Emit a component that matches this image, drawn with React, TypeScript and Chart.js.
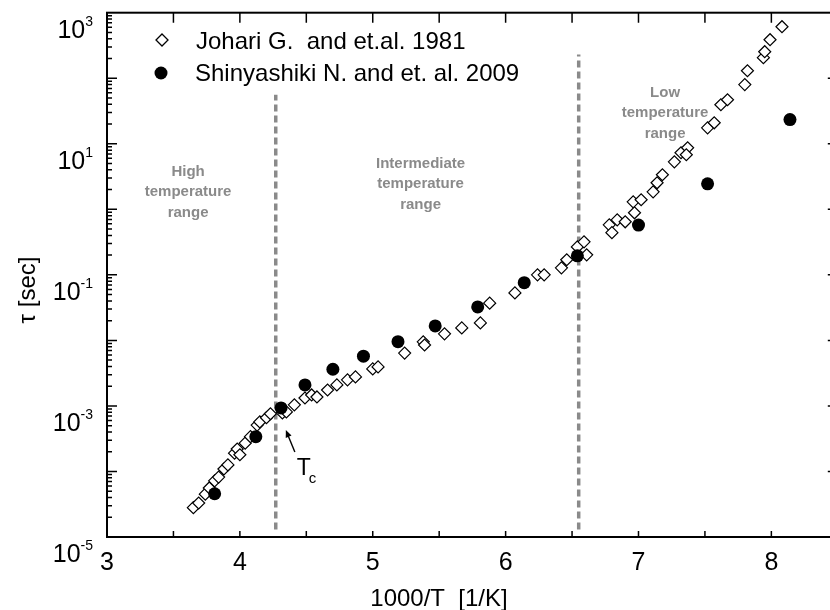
import React, { useEffect, useRef } from 'react';
import { Chart, registerables } from 'chart.js';

Chart.register(...registerables);

// Johari G. and et.al. 1981 (open diamonds)
const johariX = [3.65, 3.69, 3.74, 3.77, 3.81, 3.84, 3.88, 3.91, 3.96, 3.98, 4.00, 4.04, 4.08, 4.13, 4.15, 4.20, 4.23, 4.32, 4.35, 4.41, 4.49, 4.54, 4.58, 4.66, 4.73, 4.81, 4.87, 5.00, 5.04, 5.24, 5.38, 5.39, 5.54, 5.67, 5.81, 5.88, 6.07, 6.24, 6.29, 6.42, 6.46, 6.54, 6.59, 6.61, 6.78, 6.80, 6.84, 6.90, 6.96, 6.97, 7.02, 7.11, 7.14, 7.18, 7.27, 7.32, 7.37, 7.36, 7.52, 7.57, 7.62, 7.67, 7.80, 7.82, 7.94, 7.95, 7.99, 8.08];
const johariY = [2.8e-5, 3.3e-5, 4.5e-5, 5.6e-5, 7.2e-5, 8.2e-5, 1.09e-4, 1.26e-4, 1.9e-4, 2.2e-4, 1.8e-4, 2.7e-4, 3.4e-4, 5.1e-4, 5.7e-4, 6.6e-4, 7.6e-4, 7.8e-4, 8.1e-4, 1.04e-3, 1.32e-3, 1.47e-3, 1.37e-3, 1.75e-3, 2.09e-3, 2.5e-3, 2.77e-3, 3.67e-3, 3.94e-3, 6.4e-3, 9.5e-3, 8.5e-3, 1.26e-2, 1.55e-2, 1.85e-2, 3.7e-2, 5.3e-2, 0.1, 0.1, 0.128, 0.17, 0.267, 0.319, 0.202, 0.58, 0.44, 0.69, 0.645, 1.3, 0.885, 1.4, 1.85, 2.54, 3.37, 5.3, 7.3, 8.7, 6.8, 17.5, 20.9, 39.4, 47, 80, 130, 206, 254, 387, 611];

// Shinyashiki N. and et. al. 2009 (filled circles)
const shinX = [3.81, 4.12, 4.31, 4.49, 4.70, 4.93, 5.19, 5.47, 5.79, 6.14, 6.54, 7.00, 7.52, 8.14];
const shinY = [4.57e-5, 3.39e-4, 9.33e-4, 2.09e-3, 3.63e-3, 5.75e-3, 9.55e-3, 1.66e-2, 3.24e-2, 7.59e-2, 0.195, 0.575, 2.45, 23.4];

const johariLabel = 'Johari G.  and et.al. 1981';
const shinLabel = 'Shinyashiki N. and et. al. 2009';

// range dividers (1000/T values) and their vertical extent
const dividerX = [4.27, 6.55];
const dividerTopY = [56, 230];
const dividerBottomY = 1.3e-5;

const xTickLabels = [3, 4, 5, 6, 7, 8];
const xMinorSteps = [3.5, 4, 4.5, 5, 5.5, 6, 6.5, 7, 7.5, 8];
const yLabelExps = [-5, -3, -1, 1, 3];
const yDecadeExps = [-5, -4, -3, -2, -1, 0, 1, 2, 3];

const regionLines = [
  ['High', 'temperature', 'range'],
  ['Intermediate', 'temperature', 'range'],
  ['Low', 'temperature', 'range'],
];

const xTitle = '1000/T  [1/K]';
const yTitle = 'τ [sec]';

const FONT = '"Liberation Sans", Arial, Helvetica, sans-serif';

export default function App() {
  const ref = useRef<HTMLCanvasElement>(null);

  useEffect(() => {
    const canvas = ref.current;
    if (!canvas) return;

    const decor = {
      id: 'decor',
      afterDatasetsDraw(chart: any) {
        const ctx = chart.ctx as CanvasRenderingContext2D;
        const { left, right, top, bottom } = chart.chartArea;
        const xs = chart.scales.x;
        const ys = chart.scales.y;
        ctx.save();

        // frame
        ctx.strokeStyle = '#000';
        ctx.lineWidth = 2;
        ctx.strokeRect(left, top, right - left, bottom - top);

        // ticks (inward)
        ctx.lineWidth = 1.5;
        ctx.beginPath();
        xMinorSteps.forEach((v) => {
          const px = xs.getPixelForValue(v);
          ctx.moveTo(px, bottom);
          ctx.lineTo(px, bottom - 6);
          ctx.moveTo(px, top);
          ctx.lineTo(px, top + 10);
        });
        yDecadeExps.forEach((e) => {
          const base = Math.pow(10, e);
          const py = ys.getPixelForValue(base);
          if (e > -5 && e < 3) {
            ctx.moveTo(left, py);
            ctx.lineTo(left + 10, py);
            ctx.moveTo(right, py);
            ctx.lineTo(right - 10, py);
          }
          if (e < 3) {
            for (let m = 2; m <= 9; m++) {
              const p = ys.getPixelForValue(m * base);
              ctx.moveTo(left, p);
              ctx.lineTo(left + 5, p);
            }
          }
        });
        ctx.stroke();

        // x tick labels
        ctx.fillStyle = '#000';
        ctx.font = `25px ${FONT}`;
        ctx.textAlign = 'center';
        ctx.textBaseline = 'alphabetic';
        xTickLabels.forEach((v) => {
          ctx.fillText(String(v), xs.getPixelForValue(v), 570);
        });

        // y tick labels 10^n
        yLabelExps.forEach((e) => {
          const py = ys.getPixelForValue(Math.pow(10, e));
          const sup = String(e);
          ctx.font = `14px ${FONT}`;
          const supW = ctx.measureText(sup).width;
          ctx.textAlign = 'right';
          ctx.fillText(sup, 93, py + 13);
          ctx.font = `25px ${FONT}`;
          ctx.fillText('10', 93 - supW, py + 25);
        });

        // axis titles
        ctx.font = `24px ${FONT}`;
        ctx.textAlign = 'center';
        ctx.fillText(xTitle, 439, 606);
        ctx.save();
        ctx.translate(35, 290);
        ctx.rotate(-Math.PI / 2);
        ctx.fillText(yTitle, 0, 0);
        ctx.restore();

        // region labels
        const regionAnchors = [
          { x: 3.61, y: 3.24 },
          { x: 5.36, y: 4.3 },
          { x: 7.2, y: 52 },
        ];
        ctx.fillStyle = '#8a8a8a';
        ctx.font = `bold 15px ${FONT}`;
        ctx.textAlign = 'center';
        regionLines.forEach((lines, i) => {
          const ax = xs.getPixelForValue(regionAnchors[i].x);
          const ay = ys.getPixelForValue(regionAnchors[i].y);
          lines.forEach((t, j) => ctx.fillText(t, ax, ay + j * 20.5));
        });

        // Tc arrow + label
        const tipX = xs.getPixelForValue(4.346);
        const tipY = ys.getPixelForValue(4.3e-4);
        const tailX = tipX + 9;
        const tailY = tipY + 22;
        ctx.strokeStyle = '#000';
        ctx.fillStyle = '#000';
        ctx.lineWidth = 1.4;
        ctx.beginPath();
        ctx.moveTo(tailX, tailY);
        ctx.lineTo(tipX + 2, tipY + 5);
        ctx.stroke();
        const ang = Math.atan2(tipY - tailY, tipX - tailX);
        ctx.beginPath();
        ctx.moveTo(tipX, tipY);
        ctx.lineTo(tipX - 8 * Math.cos(ang - 0.4), tipY - 8 * Math.sin(ang - 0.4));
        ctx.lineTo(tipX - 8 * Math.cos(ang + 0.4), tipY - 8 * Math.sin(ang + 0.4));
        ctx.closePath();
        ctx.fill();
        ctx.textAlign = 'left';
        ctx.font = `23px ${FONT}`;
        ctx.fillText('T', tipX + 11, tipY + 45);
        ctx.font = `15px ${FONT}`;
        ctx.fillText('c', tipX + 23, tipY + 53);

        // legend
        ctx.lineWidth = 1.3;
        ctx.strokeStyle = '#000';
        ctx.fillStyle = '#fff';
        const dx = 162, dy = 40, r = 6;
        ctx.beginPath();
        ctx.moveTo(dx, dy - r);
        ctx.lineTo(dx + r, dy);
        ctx.lineTo(dx, dy + r);
        ctx.lineTo(dx - r, dy);
        ctx.closePath();
        ctx.fill();
        ctx.stroke();
        ctx.fillStyle = '#000';
        ctx.beginPath();
        ctx.arc(161, 73, 6.5, 0, Math.PI * 2);
        ctx.fill();
        ctx.font = `24px ${FONT}`;
        ctx.textAlign = 'left';
        ctx.fillText(johariLabel, 196, 49);
        ctx.fillText(shinLabel, 195, 81);

        ctx.restore();
      },
    };

    const chart = new Chart(canvas, {
      type: 'scatter',
      data: {
        datasets: [
          {
            label: shinLabel,
            data: shinX.map((x, i) => ({ x, y: shinY[i] })),
            pointStyle: 'circle',
            pointRadius: 6.5,
            backgroundColor: '#000',
            borderColor: '#000',
            borderWidth: 0,
            order: 0,
          },
          {
            label: johariLabel,
            data: johariX.map((x, i) => ({ x, y: johariY[i] })),
            pointStyle: 'rectRot',
            pointRadius: 6,
            backgroundColor: '#fff',
            borderColor: '#000',
            borderWidth: 1.2,
            order: 1,
          },
          ...dividerX.map((x, i) => ({
            type: 'line' as const,
            label: 'divider' + i,
            data: [
              { x, y: dividerBottomY },
              { x, y: dividerTopY[i] },
            ],
            borderColor: '#8a8a8a',
            borderWidth: 3.5,
            borderDash: [7, 4],
            pointRadius: 0,
            showLine: true,
            fill: false,
            order: 2,
          })),
        ] as any,
      },
      options: {
        responsive: false,
        animation: false,
        events: [],
        layout: { padding: { left: 107, top: 12.7, right: 6.5, bottom: 73 } },
        scales: {
          x: { type: 'linear', min: 3, max: 8.5, display: false },
          y: { type: 'logarithmic', min: 1e-5, max: 1e3, display: false },
        },
        plugins: { legend: { display: false }, tooltip: { enabled: false } },
      },
      plugins: [decor],
    });

    return () => chart.destroy();
  }, []);

  return (
    <div
      style={{
        position: 'absolute',
        left: 0,
        top: 0,
        width: 830,
        height: 610,
        overflow: 'hidden',
        background: '#fff',
      }}
    >
      <canvas ref={ref} width={845} height={610} style={{ display: 'block' }} />
    </div>
  );
}
